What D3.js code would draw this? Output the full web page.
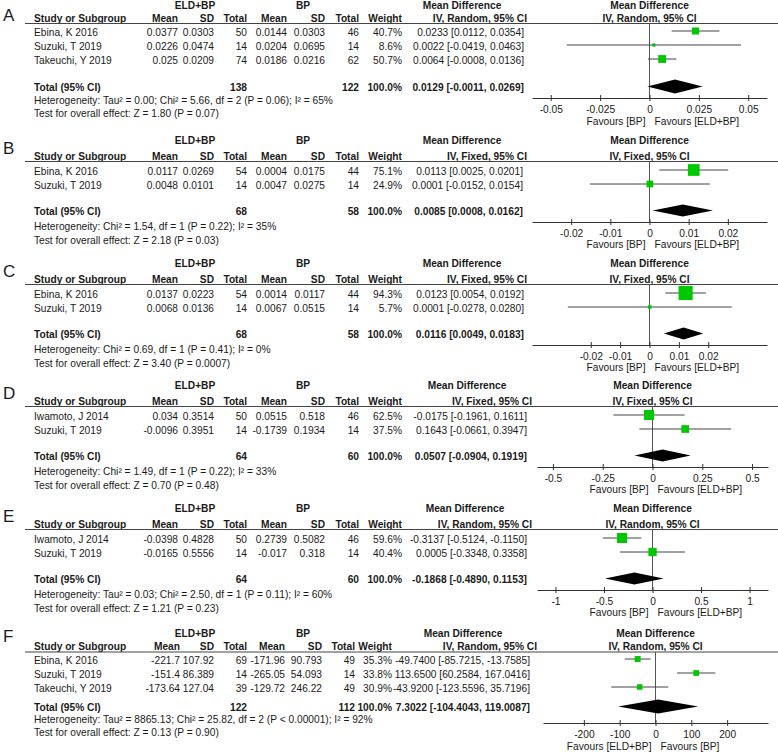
<!DOCTYPE html>
<html>
<head>
<meta charset="utf-8">
<script src="https://cdn.jsdelivr.net/npm/d3@7"></script>
<style>
  body { margin: 0; background: #fff; }
  svg text { font-family: "Liberation Sans", Arial, sans-serif; fill: #1a1a1a; }
</style>
</head>
<body>
<script>
// ---- data ----
const panelLetters = ["A", "B", "C", "D", "E", "F"];
const studyNames = [
  ["Ebina, K 2016", "Suzuki, T 2019", "Takeuchi, Y 2019"],
  ["Ebina, K 2016", "Suzuki, T 2019"],
  ["Ebina, K 2016", "Suzuki, T 2019"],
  ["Iwamoto, J 2014", "Suzuki, T 2019"],
  ["Iwamoto, J 2014", "Suzuki, T 2019"],
  ["Ebina, K 2016", "Suzuki, T 2019", "Takeuchi, Y 2019"]
];
const eldMean = [["0.0377", "0.0226", "0.025"], ["0.0117", "0.0048"], ["0.0137", "0.0068"], ["0.034", "-0.0096"], ["-0.0398", "-0.0165"], ["-221.7", "-151.4", "-173.64"]];
const eldSD = [["0.0303", "0.0474", "0.0209"], ["0.0269", "0.0101"], ["0.0223", "0.0136"], ["0.3514", "0.3951"], ["0.4828", "0.5556"], ["107.92", "86.389", "127.04"]];
const eldN = [[50, 14, 74], [54, 14], [54, 14], [50, 14], [50, 14], [69, 14, 39]];
const bpMean = [["0.0144", "0.0204", "0.0186"], ["0.0004", "0.0047"], ["0.0014", "0.0067"], ["0.0515", "-0.1739"], ["0.2739", "-0.017"], ["-171.96", "-265.05", "-129.72"]];
const bpSD = [["0.0303", "0.0695", "0.0216"], ["0.0175", "0.0275"], ["0.0117", "0.0515"], ["0.518", "0.1934"], ["0.5082", "0.318"], ["90.793", "54.093", "246.22"]];
const bpN = [[46, 14, 62], [44, 14], [44, 14], [46, 14], [46, 14], [49, 14, 49]];
const weights = [[40.7, 8.6, 50.7], [75.1, 24.9], [94.3, 5.7], [62.5, 37.5], [59.6, 40.4], [35.3, 33.8, 30.9]];
const meanDiff = [[0.0233, 0.0022, 0.0064], [0.0113, 0.0001], [0.0123, 0.0001], [-0.0175, 0.1643], [-0.3137, 0.0005], [-49.74, 113.65, -43.92]];
const ciLow = [[0.0112, -0.0419, -0.0008], [0.0025, -0.0152], [0.0054, -0.0278], [-0.1961, -0.0661], [-0.5124, -0.3348], [-85.7215, 60.2584, -123.5596]];
const ciHigh = [[0.0354, 0.0463, 0.0136], [0.0201, 0.0154], [0.0192, 0.0280], [0.1611, 0.3947], [-0.1150, 0.3358], [-13.7585, 167.0416, 35.7196]];
const totalEld = [138, 68, 68, 64, 64, 122];
const totalBp = [122, 58, 58, 60, 60, 112];
const pooledMD = [0.0129, 0.0085, 0.0116, 0.0507, -0.1868, 7.3022];
const pooledLow = [-0.0011, 0.0008, 0.0049, -0.0904, -0.4890, -104.4043];
const pooledHigh = [0.0269, 0.0162, 0.0183, 0.1919, 0.1153, 119.0087];
const models = ["Random", "Fixed", "Fixed", "Fixed", "Random", "Random"];
const heterogeneity = [
  "Heterogeneity: Tau² = 0.00; Chi² = 5.66, df = 2 (P = 0.06); I² = 65%",
  "Heterogeneity: Chi² = 1.54, df = 1 (P = 0.22); I² = 35%",
  "Heterogeneity: Chi² = 0.69, df = 1 (P = 0.41); I² = 0%",
  "Heterogeneity: Chi² = 1.49, df = 1 (P = 0.22); I² = 33%",
  "Heterogeneity: Tau² = 0.03; Chi² = 2.50, df = 1 (P = 0.11); I² = 60%",
  "Heterogeneity: Tau² = 8865.13; Chi² = 25.82, df = 2 (P < 0.00001); I² = 92%"
];
const overallEffect = [
  "Test for overall effect: Z = 1.80 (P = 0.07)",
  "Test for overall effect: Z = 2.18 (P = 0.03)",
  "Test for overall effect: Z = 3.40 (P = 0.0007)",
  "Test for overall effect: Z = 0.70 (P = 0.48)",
  "Test for overall effect: Z = 1.21 (P = 0.23)",
  "Test for overall effect: Z = 0.13 (P = 0.90)"
];
const axisTicks = [[-0.05, -0.025, 0, 0.025, 0.05], [-0.02, -0.01, 0, 0.01, 0.02], [-0.02, -0.01, 0, 0.01, 0.02], [-0.5, -0.25, 0, 0.25, 0.5], [-1, -0.5, 0, 0.5, 1], [-200, -100, 0, 100, 200]];
const axisLimits = [0.0595, 0.03, 0.04, 0.58, 1.19, 314];
const favoursLeft = ["Favours [BP]", "Favours [BP]", "Favours [BP]", "Favours [BP]", "Favours [BP]", "Favours [ELD+BP]"];
const favoursRight = ["Favours [ELD+BP]", "Favours [ELD+BP]", "Favours [ELD+BP]", "Favours [ELD+BP]", "Favours [ELD+BP]", "Favours [BP]"];

// ---- layout (pixel positions, text baselines) ----
const W = 778, H = 752, FS = 10.2;
const colsAE = {eMean: 178, eSD: 214, eN: 247, cMean: 287, cSD: 325, cN: 359, wt: 402};
const colsF = {eMean: 180, eSD: 214, eN: 247, cMean: 285, cSD: 322, cN: 355, wt: 392};

function twoRow(dy, o) {
  return Object.assign({
    letter: 154 + dy, grp: 144 + dy, hdr: 160 + dy, line: 161.5 + dy, rows: [175 + dy, 189 + dy],
    total: 215 + dy, het: 230 + dy, test: 244 + dy, axis: 222 + dy, favours: 248 + dy,
    cols: colsAE, x0: 532, x1: 767, mdCenter: 462, mdRight: 523, hdrRight: 527, box: 13.5, dia: 12
  }, o);
}
const layout = [
  {letter: 21, grp: 9, hdr: 22, line: 23.5, rows: [36, 50, 64], total: 91, het: 104, test: 117, axis: 98, favours: 125,
   cols: colsAE, x0: 532, x1: 767, mdCenter: 462, mdRight: 524, hdrRight: 527, box: 11, dia: 14},
  twoRow(0, {}),
  twoRow(123, {box: 14.5, mdRight: 524}),
  twoRow(245, {x0: 537, x1: 768, mdCenter: 467, mdRight: 527, hdrRight: 532, box: 12.6}),
  twoRow(368, {x0: 537, x1: 768, mdCenter: 465, mdRight: 527, hdrRight: 532, box: 13}),
  {letter: 642, grp: 637, hdr: 650, line: 652, rows: [664, 678, 692], total: 711, het: 723, test: 736, axis: 723, favours: 750,
   cols: colsF, x0: 543, x1: 768, mdCenter: 463, mdRight: 530, hdrRight: 537, box: 10, dia: 14}
];

const loc = d3.formatLocale({decimal: ".", thousands: ",", grouping: [3], currency: ["", ""], minus: "-"});
const f4 = loc.format(".4f");
const f1 = loc.format(".1f");
const mdText = (m, lo, hi) => f4(m) + " [" + f4(lo) + ", " + f4(hi) + "]";

const svg = d3.select("body").append("svg").attr("width", W).attr("height", H);

function txt(g, x, y, s, anchor, bold, size) {
  return g.append("text").attr("x", x).attr("y", y).text(s)
    .attr("text-anchor", anchor || "start")
    .style("font-size", (size || FS) + "px")
    .style("font-weight", bold ? "bold" : "normal");
}

panelLetters.forEach(function(letter, p) {
  const L = layout[p], c = L.cols;
  const g = svg.append("g").attr("class", "panel");
  const x = d3.scaleLinear().domain([-axisLimits[p], axisLimits[p]]).range([L.x0, L.x1]);
  const mid = (L.x0 + L.x1) / 2;

  txt(g, 3, L.letter, letter, "start", false, 17);

  // group headers
  txt(g, 195, L.grp, "ELD+BP", "middle", true);
  txt(g, 303, L.grp, "BP", "middle", true);
  txt(g, L.mdCenter, L.grp, "Mean Difference", "middle", true);
  txt(g, mid, L.grp, "Mean Difference", "middle", true);

  // column headers
  txt(g, 34, L.hdr, "Study or Subgroup", "start", true);
  txt(g, c.eMean, L.hdr, "Mean", "end", true);
  txt(g, c.eSD, L.hdr, "SD", "end", true);
  txt(g, c.eN, L.hdr, "Total", "end", true);
  txt(g, c.cMean, L.hdr, "Mean", "end", true);
  txt(g, c.cSD, L.hdr, "SD", "end", true);
  txt(g, c.cN, L.hdr, "Total", "end", true);
  txt(g, c.wt, L.hdr, "Weight", "end", true);
  txt(g, L.hdrRight, L.hdr, "IV, " + models[p] + ", 95% CI", "end", true);
  txt(g, mid, L.hdr, "IV, " + models[p] + ", 95% CI", "middle", true);

  g.append("line").attr("x1", 25).attr("x2", W).attr("y1", L.line).attr("y2", L.line)
    .attr("stroke", "#444").attr("stroke-width", 1);

  // study rows
  studyNames[p].forEach(function(name, i) {
    const y = L.rows[i];
    txt(g, 34, y, name);
    txt(g, c.eMean, y, eldMean[p][i], "end");
    txt(g, c.eSD, y, eldSD[p][i], "end");
    txt(g, c.eN, y, eldN[p][i], "end");
    txt(g, c.cMean, y, bpMean[p][i], "end");
    txt(g, c.cSD, y, bpSD[p][i], "end");
    txt(g, c.cN, y, bpN[p][i], "end");
    txt(g, c.wt, y, f1(weights[p][i]) + "%", "end");
    txt(g, L.mdRight, y, mdText(meanDiff[p][i], ciLow[p][i], ciHigh[p][i]), "end");
  });

  // totals
  txt(g, 34, L.total, "Total (95% CI)", "start", true);
  txt(g, c.eN, L.total, totalEld[p], "end", true);
  txt(g, c.cN, L.total, totalBp[p], "end", true);
  txt(g, c.wt, L.total, f1(d3.sum(weights[p])) + "%", "end", true);
  txt(g, L.mdRight, L.total, mdText(pooledMD[p], pooledLow[p], pooledHigh[p]), "end", true);
  txt(g, 34, L.het, heterogeneity[p]);
  txt(g, 34, L.test, overallEffect[p]);

  // plot: zero line
  g.append("line").attr("x1", x(0)).attr("x2", x(0)).attr("y1", L.line).attr("y2", L.axis)
    .attr("stroke", "#555").attr("stroke-width", 1);

  // axis
  const ax = g.append("g").attr("transform", "translate(0," + L.axis + ")")
    .call(d3.axisBottom(x).tickValues(axisTicks[p]).tickSize(3).tickSizeOuter(0).tickFormat(d => String(d)));
  ax.select(".domain").attr("stroke", "#333");
  ax.selectAll(".tick line").attr("y1", -3).attr("y2", 3).attr("stroke", "#333");
  ax.selectAll(".tick text").attr("y", 8).attr("dy", "0.71em")
    .style("font-size", FS + "px").style("font-family", "'Liberation Sans', Arial, sans-serif").attr("fill", "#1a1a1a");

  txt(g, x(0) - 4, L.favours, favoursLeft[p], "end");
  txt(g, x(0) + 5, L.favours, favoursRight[p], "start");

  // CIs and boxes
  const side = d3.scaleSqrt().domain([0, 100]).range([0, L.box]);
  studyNames[p].forEach(function(name, i) {
    const y = L.rows[i] - 5;
    g.append("line").attr("x1", x(ciLow[p][i])).attr("x2", x(ciHigh[p][i]))
      .attr("y1", y).attr("y2", y).attr("stroke", "#444").attr("stroke-width", 1);
    const s = Math.max(2, side(weights[p][i]));
    g.append("rect").attr("x", x(meanDiff[p][i]) - s / 2).attr("y", y - s / 2)
      .attr("width", s).attr("height", s).attr("fill", "#00c800");
  });

  // pooled diamond
  const dy = L.total - 4.5, h = L.dia / 2;
  g.append("path")
    .attr("d", "M" + x(pooledLow[p]) + "," + dy + "L" + x(pooledMD[p]) + "," + (dy - h) +
      "L" + x(pooledHigh[p]) + "," + dy + "L" + x(pooledMD[p]) + "," + (dy + h) + "Z")
    .attr("fill", "#000");
});
</script>
</body>
</html>
